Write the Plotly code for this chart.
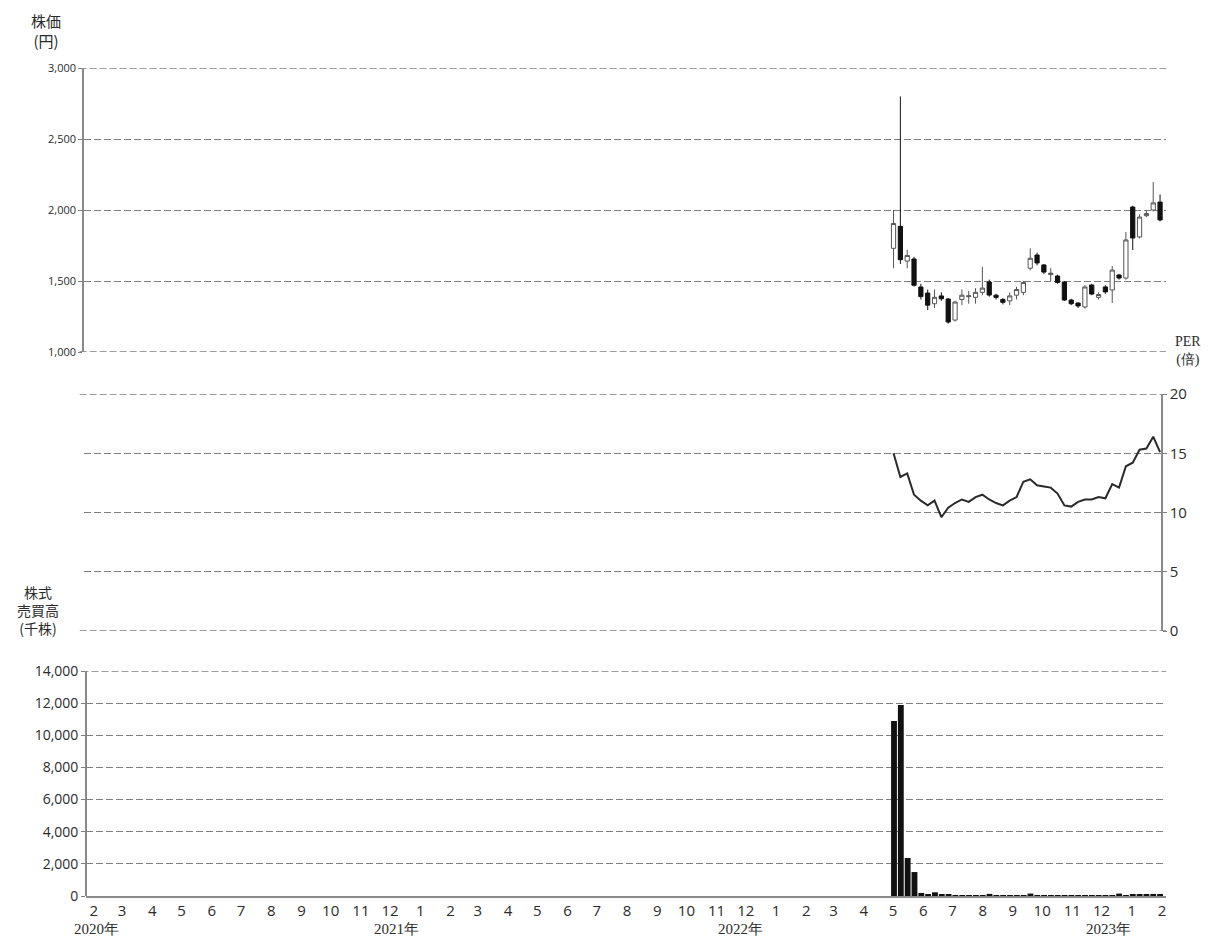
import plotly.graph_objects as go

# ---------------- data ----------------
weeks = ["2022-05-02", "2022-05-09", "2022-05-16", "2022-05-23", "2022-05-30",
         "2022-06-06", "2022-06-13", "2022-06-20", "2022-06-27", "2022-07-04",
         "2022-07-11", "2022-07-18", "2022-07-25", "2022-08-01", "2022-08-08",
         "2022-08-15", "2022-08-22", "2022-08-29", "2022-09-05", "2022-09-12",
         "2022-09-19", "2022-09-26", "2022-10-03", "2022-10-10", "2022-10-17",
         "2022-10-24", "2022-10-31", "2022-11-07", "2022-11-14", "2022-11-21",
         "2022-11-28", "2022-12-05", "2022-12-12", "2022-12-19", "2022-12-26",
         "2023-01-02", "2023-01-09", "2023-01-16", "2023-01-23", "2023-01-30"]

price_open = [1730, 1885, 1640, 1655, 1458, 1415, 1340, 1395, 1373, 1225,
              1370, 1390, 1385, 1420, 1493, 1400, 1370, 1360, 1400, 1420,
              1590, 1683, 1613, 1545, 1535, 1493, 1366, 1345, 1317, 1472,
              1385, 1458, 1437, 1542, 1521, 2021, 1810, 1960, 2000, 2056]
price_high = [2000, 2800, 1720, 1670, 1480, 1440, 1440, 1420, 1380, 1360,
              1440, 1430, 1450, 1600, 1510, 1410, 1380, 1420, 1460, 1500,
              1730, 1700, 1620, 1590, 1545, 1500, 1375, 1350, 1470, 1480,
              1420, 1470, 1606, 1550, 1845, 2030, 1970, 2000, 2197, 2110]
price_low = [1590, 1620, 1590, 1460, 1370, 1295, 1310, 1360, 1200, 1215,
             1330, 1340, 1340, 1400, 1390, 1370, 1335, 1330, 1370, 1400,
             1575, 1610, 1550, 1500, 1480, 1360, 1330, 1310, 1305, 1400,
             1370, 1410, 1345, 1510, 1510, 1718, 1800, 1950, 1990, 1920]
price_close = [1905, 1650, 1680, 1470, 1390, 1330, 1385, 1375, 1211, 1352,
               1400, 1395, 1420, 1450, 1401, 1385, 1350, 1395, 1440, 1490,
               1660, 1627, 1563, 1555, 1490, 1366, 1340, 1324, 1458, 1408,
               1405, 1423, 1577, 1521, 1789, 1803, 1950, 1975, 2050, 1930]

per_values = [15.0, 13.0, 13.3, 11.5, 11.0, 10.6, 11.0, 9.6, 10.4, 10.8,
              11.1, 10.9, 11.3, 11.5, 11.1, 10.8, 10.6, 11.0, 11.3, 12.6,
              12.8, 12.3, 12.2, 12.1, 11.6, 10.6, 10.5, 10.9, 11.1, 11.1,
              11.3, 11.2, 12.4, 12.1, 13.9, 14.2, 15.3, 15.4, 16.4, 15.1]

volume_k = [10890, 11885, 2365, 1490, 190, 90, 230, 110, 80, 60,
            40, 50, 30, 40, 130, 30, 20, 40, 60, 30,
            150, 40, 30, 20, 20, 20, 30, 40, 30, 50,
            40, 30, 40, 150, 60, 110, 120, 110, 130, 90]

month_ticks = ["2020-02-01", "2020-03-01", "2020-04-01", "2020-05-01", "2020-06-01",
               "2020-07-01", "2020-08-01", "2020-09-01", "2020-10-01", "2020-11-01",
               "2020-12-01", "2021-01-01", "2021-02-01", "2021-03-01", "2021-04-01",
               "2021-05-01", "2021-06-01", "2021-07-01", "2021-08-01", "2021-09-01",
               "2021-10-01", "2021-11-01", "2021-12-01", "2022-01-01", "2022-02-01",
               "2022-03-01", "2022-04-01", "2022-05-01", "2022-06-01", "2022-07-01",
               "2022-08-01", "2022-09-01", "2022-10-01", "2022-11-01", "2022-12-01",
               "2023-01-01", "2023-02-01"]
month_labels = ["2", "3", "4", "5", "6", "7", "8", "9", "10", "11", "12",
                "1", "2", "3", "4", "5", "6", "7", "8", "9", "10", "11", "12",
                "1", "2", "3", "4", "5", "6", "7", "8", "9", "10", "11", "12",
                "1", "2"]
year_labels = ["2020年", "2021年", "2022年", "2023年"]
year_label_dates = ["2020-02-04", "2020-12-08", "2021-11-26", "2022-12-08"]

x_range = ["2020-01-23 19:00", "2023-02-05 02:00"]
price_range = [1000, 3000]
per_range = [0, 20]
volume_range = [0, 14000]

# ---------------- styles ----------------
GRID = "#7f7f7f"
AXIS = "#8a8a8a"
TXT = "#2b2b2b"
DASH = "7px,3px"
NUM_FONT = "Open Sans"
JP_FONT = "Noto Sans CJK JP"

fig = go.Figure()

fig.add_trace(go.Candlestick(
    x=weeks, open=price_open, high=price_high, low=price_low, close=price_close,
    xaxis="x2", yaxis="y",
    increasing=dict(fillcolor="#ffffff", line=dict(color="#555555", width=1)),
    decreasing=dict(fillcolor="#111111", line=dict(color="#111111", width=1)),
    whiskerwidth=0, showlegend=False,
))

fig.add_trace(go.Scatter(
    x=weeks, y=per_values, mode="lines", xaxis="x3", yaxis="y2",
    line=dict(color="#2a2a2a", width=2), showlegend=False,
))

fig.add_trace(go.Bar(
    x=weeks, y=volume_k, xaxis="x", yaxis="y3",
    width=6 * 86400000, marker=dict(color="#111111", line=dict(width=0)),
    showlegend=False,
))

# page body offsets the figure by 8px, so the figure is drawn 8px smaller
OFF = 8
W, H = 1209 - OFF, 946 - OFF
L, R, T, B = 84 - OFF, 43, 68 - OFF, 50
plot_h = H - T - B
plot_w = W - L - R
def yfrac(px):
    return (946 - B - px) / plot_h
def xfrac(px):
    return (px - 84) / plot_w

common_x = dict(type="date", range=x_range, showgrid=False, zeroline=False,
                fixedrange=True)
grid = dict(showgrid=True, gridcolor=GRID, griddash=DASH, gridwidth=1.3,
            zeroline=False, showline=True, linecolor=AXIS, linewidth=1.5,
            ticks="outside", ticklen=4, tickcolor=GRID, fixedrange=True)

fig.update_layout(
    width=W, height=H,
    margin=dict(l=L, r=R, t=T, b=B),
    paper_bgcolor="white", plot_bgcolor="white",
    showlegend=False,
    boxgap=0.12,
    xaxis=dict(**common_x, anchor="y3", domain=[0.0017, 1],
               showline=True, linecolor=AXIS, linewidth=1.5,
               tickmode="array", tickvals=month_ticks, ticktext=month_labels,
               ticks="", tickfont=dict(family=NUM_FONT, size=15, color=TXT)),
    xaxis2=dict(**common_x, anchor="y", matches="x", domain=[0, 1],
                showticklabels=False, rangeslider=dict(visible=False)),
    xaxis3=dict(**common_x, anchor="y2", matches="x", domain=[0, 1],
                showticklabels=False),
    yaxis=dict(**grid, domain=[yfrac(352), yfrac(68)], range=price_range, dtick=500,
               tickformat=",d", tickfont=dict(family=NUM_FONT, size=11, color=TXT),
               anchor="x2"),
    yaxis2=dict(**grid, domain=[yfrac(631), yfrac(394)], range=per_range, dtick=5,
                side="right", anchor="free", position=xfrac(1162),
                tickfont=dict(family=NUM_FONT, size=15, color=TXT)),
    yaxis3=dict(**grid, domain=[0, yfrac(671)], range=volume_range, dtick=2000,
                tickformat=",d", tickfont=dict(family=NUM_FONT, size=14, color=TXT),
                anchor="free", position=0.0017),
)

# edge grid lines (plotly skips grid lines lying on the range ends)
shapes = []
for yref, val in [("y", price_range[0]), ("y", price_range[1]),
                  ("y2", per_range[0]), ("y2", per_range[1]),
                  ("y3", volume_range[1])]:
    xr = "x2 domain" if yref == "y" else ("x3 domain" if yref == "y2" else "x domain")
    shapes.append(dict(type="line", xref=xr, yref=yref, x0=-0.004, x1=1, y0=val, y1=val,
                       line=dict(color=GRID, width=1.3, dash=DASH), layer="below"))
fig.update_layout(shapes=shapes)

annotations = [
    dict(text="株価<br>(円)", xref="paper", yref="paper", x=xfrac(46),
         y=yfrac(8), xanchor="center", yanchor="top", showarrow=False,
         font=dict(family=JP_FONT, size=15, color=TXT), align="center"),
    dict(text="PER<br>(倍)", xref="paper", yref="paper", x=xfrac(1188),
         y=yfrac(332), xanchor="center", yanchor="top", showarrow=False,
         font=dict(family="Liberation Serif", size=14, color=TXT), align="center"),
    dict(text="株式<br>売買高<br>(千株)", xref="paper", yref="paper", x=xfrac(38),
         y=yfrac(580), xanchor="center", yanchor="top", showarrow=False,
         font=dict(family=JP_FONT, size=14, color=TXT), align="center"),
]
for lbl, d in zip(year_labels, year_label_dates):
    annotations.append(dict(text=lbl, xref="x", yref="paper", x=d, y=yfrac(929),
                            xanchor="center", yanchor="middle", showarrow=False,
                            font=dict(family="Liberation Serif", size=15, color=TXT)))
fig.update_layout(annotations=annotations)

fig.write_html("out.html")
